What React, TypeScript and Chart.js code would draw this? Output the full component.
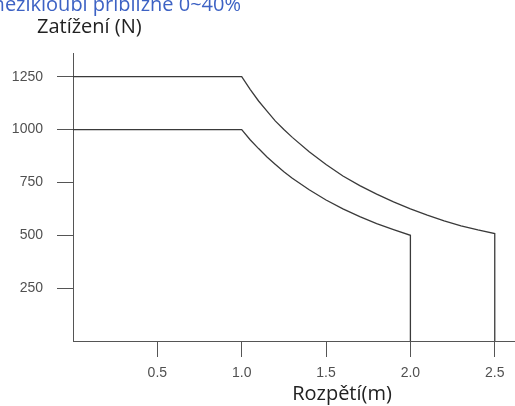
import React, { useEffect, useRef } from "react";
import { Chart, registerables } from "chart.js";

Chart.register(...registerables);

const titleText = "mezikloubí přibližně 0~40%";
const yAxisLabel = "Zatížení (N)";
const xAxisLabel = "Rozpětí(m)";

const xTickValues = [0.5, 1.0, 1.5, 2.0, 2.5];
const yTickValues = [250, 500, 750, 1000, 1250];

const upperX = [0, 1.0, 1.05, 1.1, 1.15, 1.2, 1.25, 1.3, 1.4, 1.5, 1.6, 1.7, 1.8, 1.9, 2.0, 2.1, 2.2, 2.3, 2.4, 2.5, 2.5];
const upperY = [1250, 1250, 1190, 1135, 1087, 1040, 1000, 963, 895, 835, 780, 735, 695, 658, 625, 595, 568, 545, 525, 508, 0];

const lowerX = [0, 1.0, 1.05, 1.1, 1.15, 1.2, 1.25, 1.3, 1.4, 1.5, 1.6, 1.7, 1.8, 1.9, 2.0, 2.0];
const lowerY = [1000, 1000, 952, 910, 870, 835, 800, 770, 715, 667, 625, 588, 555, 527, 500, 0];

const LABEL_FONT = "'Open Sans', sans-serif";
const TICK_FONT = "'Liberation Sans', Arial, sans-serif";

const textPlugin = {
  id: "textPlugin",
  afterDraw(chart: any) {
    const ctx = chart.ctx;
    ctx.save();
    ctx.fillStyle = "#3d62c4";
    ctx.font = `20px ${LABEL_FONT}`;
    ctx.textAlign = "right";
    ctx.textBaseline = "alphabetic";
    ctx.fillText(titleText, 241, 11);
    ctx.fillStyle = "#222";
    ctx.font = `20px ${LABEL_FONT}`;
    ctx.textAlign = "left";
    ctx.fillText(yAxisLabel, 37, 33);
    ctx.textAlign = "center";
    ctx.fillText(xAxisLabel, 342, 400);
    ctx.restore();
  },
};

export default function App() {
  const ref = useRef<HTMLCanvasElement | null>(null);
  useEffect(() => {
    if (!ref.current) return;
    const mk = (xs: number[], ys: number[]) => xs.map((x, i) => ({ x, y: ys[i] }));
    const chart = new Chart(ref.current, {
      type: "line",
      data: {
        datasets: [
          {
            data: mk(upperX, upperY),
            borderColor: "#3a3a3a",
            borderWidth: 1.3,
            pointRadius: 0,
            tension: 0,
            fill: false,
          },
          {
            data: mk(lowerX, lowerY),
            borderColor: "#3a3a3a",
            borderWidth: 1.3,
            pointRadius: 0,
            tension: 0,
            fill: false,
          },
        ],
      },
      options: {
        animation: false,
        responsive: false,
        events: [],
        layout: { padding: { left: 0, right: 0, top: 53, bottom: 0 } },
        plugins: { legend: { display: false }, tooltip: { enabled: false }, title: { display: false } },
        scales: {
          x: {
            type: "linear",
            min: 0,
            max: 2.62,
            afterBuildTicks: (s: any) => {
              s.ticks = xTickValues.map((v) => ({ value: v }));
            },
            afterFit: (s: any) => {
              s.height = 65;
            },
            ticks: {
              color: "#505050",
              font: { family: TICK_FONT, size: 14 },
              padding: 8,
              maxRotation: 0,
              callback: (v: any) => Number(v).toFixed(1),
            },
            grid: { display: true, drawOnChartArea: false, drawTicks: true, tickLength: 16, color: "#555", lineWidth: 1 },
            border: { display: true, color: "#555", width: 1 },
          },
          y: {
            type: "linear",
            min: 0,
            max: 1362,
            afterBuildTicks: (s: any) => {
              s.ticks = yTickValues.map((v) => ({ value: v }));
            },
            afterFit: (s: any) => {
              s.width = 73;
            },
            ticks: {
              color: "#505050",
              font: { family: TICK_FONT, size: 14 },
              padding: 14,
              callback: (v: any) => String(v),
            },
            grid: { display: true, drawOnChartArea: false, drawTicks: true, tickLength: 16, color: "#555", lineWidth: 1 },
            border: { display: true, color: "#555", width: 1 },
          },
        },
      },
      plugins: [textPlugin],
    });
    return () => chart.destroy();
  }, []);
  return (
    <div style={{ position: "absolute", left: 0, top: 0, width: 515, height: 406, background: "#fff" }}>
      <canvas ref={ref} width={515} height={406} style={{ width: 515, height: 406, display: "block" }} />
    </div>
  );
}
